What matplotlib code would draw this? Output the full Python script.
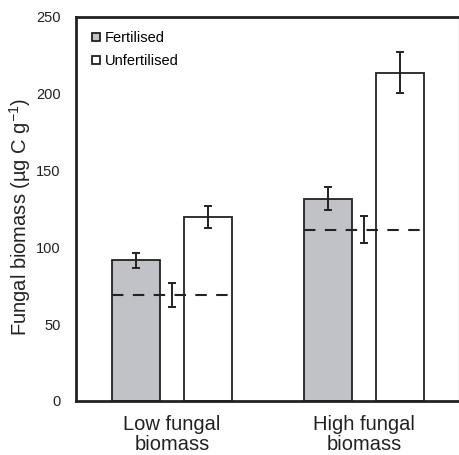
import matplotlib
matplotlib.use("Agg")
import matplotlib.pyplot as plt
from matplotlib.patches import Patch

plt.rcParams['font.family'] = ['Liberation Sans', 'DejaVu Sans']
plt.rcParams['mathtext.fontset'] = 'custom'
plt.rcParams['mathtext.rm'] = 'Liberation Sans'
plt.rcParams['mathtext.it'] = 'Liberation Sans'

groups = ["Low fungal\nbiomass", "High fungal\nbiomass"]
fertilised = [91.5, 131.5]
fertilised_err = [4.8, 7.5]
unfertilised = [119.5, 213.5]
unfertilised_err = [7.0, 13.5]
reference_level = [69.0, 111.5]
reference_err = [8.0, 9.0]
yticks = [0, 50, 100, 150, 200, 250]

centers = [4.0, 12.0]
offset = 1.5
width = 2.0

fig = plt.figure(figsize=(4.6, 4.55), dpi=100)
ax = fig.add_axes([0.165, 0.1187, 0.833, 0.845])

edge = "#222222"
grey = "#c0c2c8"
fx = [c - offset for c in centers]
ux = [c + offset for c in centers]
ax.bar(fx, fertilised, width=width, color=grey, edgecolor=edge, linewidth=1.3, zorder=2)
ax.bar(ux, unfertilised, width=width, color="white", edgecolor=edge, linewidth=1.3, zorder=2)
ax.errorbar(fx, fertilised, yerr=fertilised_err, fmt="none", ecolor=edge,
            elinewidth=1.4, capsize=3, capthick=1.4, zorder=3)
ax.errorbar(ux, unfertilised, yerr=unfertilised_err, fmt="none", ecolor=edge,
            elinewidth=1.4, capsize=3, capthick=1.4, zorder=3)

# dashed reference level across each group, with its own error bar
for c, lvl, err in zip(centers, reference_level, reference_err):
    ax.plot([c - offset - width / 2, c + offset + width / 2], [lvl, lvl],
            color=edge, linewidth=1.5, dashes=(5.5, 4.5), zorder=4)
    ax.errorbar([c], [lvl], yerr=[err], fmt="none", ecolor=edge,
                elinewidth=1.4, capsize=3, capthick=1.4, zorder=4)

ax.set_xlim(0, 15.96)
ax.set_ylim(0, 250)
ax.set_yticks(yticks)
ax.set_yticklabels([str(t) for t in yticks], fontsize=10.5, color="#222222")
ax.set_xticks(centers)
ax.set_xticklabels(groups, fontsize=14.5, color="#222222", linespacing=1.05)
ax.tick_params(axis="both", length=0)
ax.tick_params(axis="y", pad=11)
ax.tick_params(axis="x", pad=10)
ax.set_ylabel("Fungal biomass (µg C g$^{-1}$)", fontsize=14.5, color="#222222",
              va="center", ha="center")
ax.yaxis.set_label_coords(-0.146, 0.48)

for side in ("left", "bottom", "top"):
    ax.spines[side].set_linewidth(2.0)
    ax.spines[side].set_color("#222222")
ax.spines["right"].set_linewidth(1.0)
ax.spines["right"].set_color("#bbbbbb")

handles = [Patch(facecolor=grey, edgecolor=edge, linewidth=1.3, label="Fertilised"),
           Patch(facecolor="white", edgecolor=edge, linewidth=1.3, label="Unfertilised")]
ax.legend(handles=handles, loc="upper left", frameon=False, fontsize=10.5,
          handlelength=0.55, handleheight=0.55, handletextpad=0.35,
          labelspacing=0.62, borderaxespad=0.0, bbox_to_anchor=(0.027, 0.977))

fig.savefig("out.png", dpi=100)
